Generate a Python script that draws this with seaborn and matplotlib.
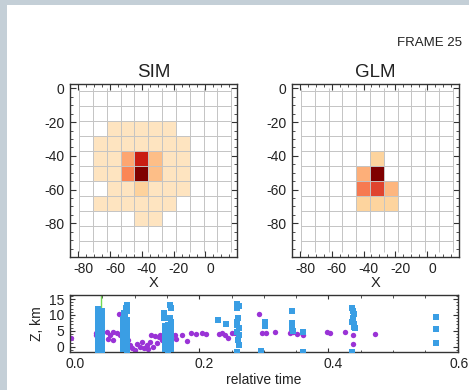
import numpy as np
import pandas as pd
import matplotlib
matplotlib.use("Agg")
import matplotlib.pyplot as plt
import matplotlib.transforms as mtransforms
from matplotlib.patches import Rectangle
from matplotlib.ticker import MultipleLocator
import seaborn as sns

# ---- data ----
# map grid cell edges (x left->right, y top->bottom)
x_edges = [-79.4, -70.7, -62.0, -53.3, -44.6, -35.9, -27.2, -18.5, -9.8, -1.1, 7.6, 16.3]
y_edges = [-1.4, -10.3, -19.2, -28.1, -37.0, -45.9, -54.8, -63.7, -72.6, -81.5, -90.4]

# flash intensity per cell (rows top->bottom, 0 = empty)
sim_flash = [
    [0, 0, 0, 0, 0, 0, 0, 0, 0, 0, 0],
    [0, 0, 0, 0, 0, 0, 0, 0, 0, 0, 0],
    [0, 0, 15, 15, 15, 15, 15, 0, 0, 0, 0],
    [0, 15, 15, 15, 15, 15, 15, 15, 0, 0, 0],
    [0, 15, 15, 43, 80, 36, 15, 15, 0, 0, 0],
    [0, 15, 15, 52, 100, 36, 15, 15, 0, 0, 0],
    [0, 0, 15, 15, 26, 15, 15, 15, 0, 0, 0],
    [0, 15, 15, 15, 15, 15, 15, 0, 0, 0, 0],
    [0, 0, 0, 0, 15, 15, 0, 0, 0, 0, 0],
    [0, 0, 0, 0, 0, 0, 0, 0, 0, 0, 0],
]
glm_flash = [
    [0, 0, 0, 0, 0, 0, 0, 0, 0, 0, 0],
    [0, 0, 0, 0, 0, 0, 0, 0, 0, 0, 0],
    [0, 0, 0, 0, 0, 0, 0, 0, 0, 0, 0],
    [0, 0, 0, 0, 0, 0, 0, 0, 0, 0, 0],
    [0, 0, 0, 0, 0, 25, 0, 0, 0, 0, 0],
    [0, 0, 0, 0, 41, 100, 0, 0, 0, 0, 0],
    [0, 0, 0, 0, 56, 70, 39, 0, 0, 0, 0],
    [0, 0, 0, 0, 25, 25, 25, 0, 0, 0, 0],
    [0, 0, 0, 0, 0, 0, 0, 0, 0, 0, 0],
    [0, 0, 0, 0, 0, 0, 0, 0, 0, 0, 0],
]

# bottom panel: source heights vs relative time
blue_t = [0.044] * 17 + [0.049] * 17 + \
    [0.0877, 0.086, 0.088, 0.084, 0.085] + [0.082] * 13 + [0.088] * 13 + \
    [0.1455, 0.1455, 0.155, 0.157, 0.155, 0.157] + [0.147] * 10 + [0.152] * 11 + [0.157] * 10 + \
    [0.258, 0.261, 0.259, 0.260, 0.258, 0.259, 0.261, 0.259, 0.262, 0.260, 0.261, 0.259, 0.2296, 0.2414] + \
    [0.302, 0.302, 0.2955, 0.343, 0.343, 0.344, 0.345, 0.361, 0.361] + \
    [0.437, 0.438, 0.440, 0.438, 0.437, 0.439, 0.440, 0.441, 0.436] + \
    [0.567, 0.567, 0.567]
blue_z = [11.8, 11.0, 10.2, 9.4, 8.6, 7.8, 7.0, 6.2, 5.4, 4.6, 3.8, 3.0, 2.2, 1.4, 0.6, -0.2, -1.0] + \
    [11.4, 10.6, 9.8, 9.0, 8.2, 7.4, 6.6, 5.8, 5.0, 4.2, 3.4, 2.6, 1.8, 1.0, 0.2, -0.6, -1.3] + \
    [13.0, 12.2, 11.3, 10.5, 9.6] + \
    [8.8, 8.0, 7.2, 6.4, 5.6, 4.8, 4.0, 3.2, 2.4, 1.6, 0.8, 0.0, -0.8] + \
    [8.4, 7.6, 6.8, 6.0, 5.2, 4.4, 3.6, 2.8, 2.0, 1.2, 0.4, -0.4, -1.2] + \
    [10.5, 9.0, 13.1, 12.1, 8.9, 7.8] + \
    [6.4, 5.6, 4.8, 4.0, 3.2, 2.4, 1.6, 0.8, 0.0, -0.8] + \
    [6.8, 6.0, 5.2, 4.4, 3.6, 2.8, 2.0, 1.2, 0.4, -0.4, -1.2] + \
    [6.4, 5.6, 4.8, 4.0, 3.2, 2.4, 1.6, 0.8, 0.0, -0.8] + \
    [13.6, 12.9, 12.1, 8.9, 7.9, 6.8, 5.8, 4.7, 3.7, 2.1, 0.5, -1.6, 8.4, 7.0] + \
    [7.9, 6.4, -1.4, 11.2, 7.4, 6.0, 5.0, 4.7, -1.6] + \
    [12.3, 11.2, 10.2, 8.9, 7.9, 7.0, 6.3, 5.8, -1.6] + \
    [9.5, 5.5, 1.05]

purple_t = [0.002, 0.040, 0.041, 0.044, 0.046,
            0.0578, 0.062, 0.067, 0.072, 0.077, 0.0594, 0.066, 0.0764, 0.0826, 0.085,
            0.0929, 0.0905, 0.096, 0.1006, 0.103, 0.108, 0.111, 0.1145, 0.1187, 0.121,
            0.124, 0.126, 0.129, 0.1315, 0.134, 0.137, 0.139, 0.142,
            0.1625, 0.164, 0.173, 0.1806, 0.188, 0.1945, 0.204, 0.2105,
            0.231, 0.2347, 0.240, 0.245, 0.250, 0.256,
            0.293, 0.2966, 0.304, 0.317, 0.340, 0.345, 0.351, 0.3585, 0.361,
            0.397, 0.402, 0.4256, 0.438, 0.438, 0.472]
purple_z = [2.8, 3.7, 4.2, 2.6, 1.1,
            4.5, 3.7, 4.7, 4.2, 3.7, 2.4, 2.1, 10.3, 1.1, -0.5,
            0.5, 2.0, -0.3, -1.0, 0.75, 0.0, 1.6, -0.5, 0.5, -0.8,
            1.4, 3.7, 0.0, 3.4, 1.1, 3.1, 3.7, 2.1,
            3.7, 2.4, 3.7, 1.8, 4.2, 3.9, 4.2, 4.1,
            3.9, 4.4, 3.7, 2.8, 4.2, 4.4,
            10.3, 4.2, 4.2, 4.7, 4.4, 4.7, 3.9, 4.2, 3.7,
            4.7, 4.2, 4.7, 3.7, 0.75, 3.9]
trigger_t = 0.048


def cells_frame(levels):
    rows = []
    for i, row in enumerate(levels):
        for j, v in enumerate(row):
            if v > 0:
                rows.append({"x": (x_edges[j] + x_edges[j + 1]) / 2,
                             "y": (y_edges[i] + y_edges[i + 1]) / 2,
                             "w": v})
    return pd.DataFrame(rows)


sns.set_theme(style="ticks", rc={
    "xtick.direction": "in", "ytick.direction": "in",
    "xtick.top": True, "ytick.right": True,
    "xtick.minor.visible": True, "ytick.minor.visible": True,
    "xtick.major.size": 4.5, "ytick.major.size": 4.5,
    "xtick.minor.size": 2.2, "ytick.minor.size": 2.2,
    "xtick.major.width": 0.8, "ytick.major.width": 0.8,
    "xtick.minor.width": 0.6, "ytick.minor.width": 0.6,
    "xtick.major.pad": 3.5, "ytick.major.pad": 4,
    "axes.linewidth": 1.0, "axes.edgecolor": "#333333",
    "xtick.color": "#333333", "ytick.color": "#333333",
    "xtick.labelcolor": "#222222", "ytick.labelcolor": "#222222",
    "axes.unicode_minus": False,
    "xtick.labelsize": 10, "ytick.labelsize": 10,
})
plt.rcParams["font.family"] = ["Liberation Sans", "DejaVu Sans"]

fig = plt.figure(figsize=(4.69, 3.90), dpi=100, facecolor="#c4cfd7")
fig.add_artist(Rectangle((7 / 469, 0), 1, 385 / 390, transform=fig.transFigure,
                         facecolor="white", edgecolor="none", zorder=-10))

shift = mtransforms.ScaledTranslation(5 / 100, 0, fig.dpi_scale_trans)
edge_shift = mtransforms.ScaledTranslation(1 / 100, 0, fig.dpi_scale_trans)

xb = sorted(x_edges)
yb = sorted(y_edges)

# -----------------------------
# SIM / GLM maps
# -----------------------------
for left, name, levels in [(70 / 469, "SIM", sim_flash), (291.7 / 469, "GLM", glm_flash)]:
    ax = fig.add_axes([left, 0.341, 0.356, 0.4428])
    sns.histplot(data=cells_frame(levels), x="x", y="y", weights="w",
                 bins=[xb, yb], cmap="OrRd", vmin=0, vmax=100, ax=ax, zorder=1)
    ax.vlines(x_edges, -97.3, 0.0, color="#c4c4c4", lw=0.7, zorder=2)
    ax.hlines(y_edges, x_edges[0], x_edges[-1], color="#c4c4c4", lw=0.7, zorder=2)
    ax.set_xlim(-85.2, 19.9)
    ax.set_ylim(-100, 2.4)
    ax.set_xticks([-80, -60, -40, -20, 0])
    ax.set_yticks([-80, -60, -40, -20, 0])
    ax.xaxis.set_minor_locator(MultipleLocator(5))
    ax.yaxis.set_minor_locator(MultipleLocator(5))
    ax.set_title(name, fontsize=13.5, pad=5, color="#222222")
    ax.set_xlabel("X", fontsize=10.5, labelpad=0, color="#222222")
    ax.set_ylabel("")
    for lab in ax.get_xticklabels():
        lab.set_transform(lab.get_transform() + shift)

# -----------------------------
# Z vs relative time
# -----------------------------
ax3 = fig.add_axes([70 / 469, 0.0982, 0.8267, 0.1454])
ax3.axvline(trigger_t, color="#72d852", lw=1.0, zorder=1)
sns.scatterplot(x=purple_t, y=purple_z, color="#9a33d6", marker="o", s=15,
                linewidth=0, ax=ax3, zorder=2)
sns.scatterplot(x=blue_t, y=blue_z, color="#3a9ee4", marker="s", s=13,
                linewidth=0, ax=ax3, zorder=3)
ax3.set_xlim(0, 0.6)
ax3.set_ylim(-1.6, 16.3)
ax3.set_xticks([0.0, 0.2, 0.4, 0.6])
ax3.set_xticklabels(["0.0", "0.2", "0.4", "0.6"])
ax3.set_yticks([0, 5, 10, 15])
ax3.xaxis.set_minor_locator(MultipleLocator(0.05))
ax3.yaxis.set_minor_locator(MultipleLocator(1))
ax3.tick_params(axis="x", which="major", length=3)
ax3.tick_params(axis="y", which="major", length=3.5)
ax3.tick_params(which="minor", length=1.8)
ax3.set_xlabel("relative time", fontsize=10, labelpad=2, color="#222222")
ax3.set_ylabel("Z, km", fontsize=10, labelpad=4, color="#222222")
labs = ax3.get_xticklabels()
for lab in labs[:-1]:
    lab.set_transform(lab.get_transform() + shift)
labs[-1].set_transform(labs[-1].get_transform() + edge_shift)

fig.text(461.7 / 469, 1 - 45.7 / 390, "FRAME 25", ha="right", va="baseline",
         fontsize=9.5, color="#222222")

fig.savefig("out.png", dpi=100, facecolor=fig.get_facecolor())
